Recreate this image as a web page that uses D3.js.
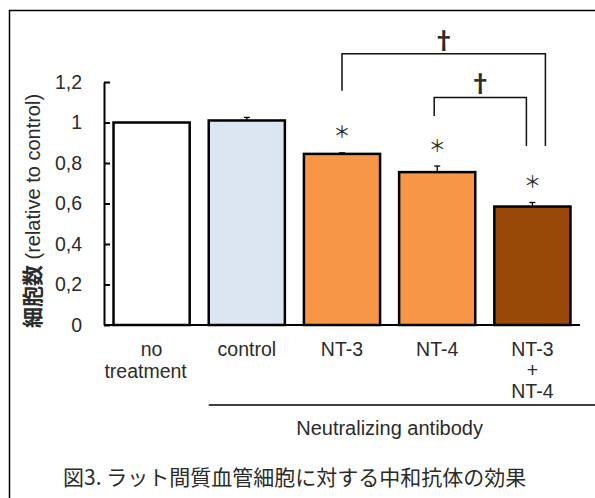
<!DOCTYPE html>
<html>
<head>
<meta charset="utf-8">
<script src="https://cdn.jsdelivr.net/npm/d3@7"></script>
<style>
  body { margin: 0; background: #fff; }
  svg { display: block; }
  text { font-family: "Liberation Sans", Arial, sans-serif; fill: #2b2b2b; }
  .cjk { font-family: "Noto Sans CJK JP", sans-serif; }
</style>
</head>
<body>
<div id="vis"></div>
<script>
// data
const categories = ["no treatment", "control", "NT-3", "NT-4", "NT-3 + NT-4"];
const categoryLines = [["no", "treatment"], ["control"], ["NT-3"], ["NT-4"], ["NT-3", "+", "NT-4"]];
const values = [1.0, 1.01, 0.845, 0.755, 0.585];
const errors = [0, 0.015, 0.005, 0.03, 0.02];
const starred = [false, false, true, true, true];
const fills = ["#ffffff", "#dce6f2", "#f79646", "#f79646", "#984807"];
const yTicks = [0, 0.2, 0.4, 0.6, 0.8, 1, 1.2];

// significance brackets, levels in data units
const brackets = [
  { from: "NT-3", to: "NT-3 + NT-4", level: 1.34, fromEnd: 1.157, toEnd: 0.884, dxFrom: 0, dxTo: 13 },
  { from: "NT-4", to: "NT-3 + NT-4", level: 1.124, fromEnd: 1.032, toEnd: 0.884, dxFrom: -3, dxTo: -6 },
];

const yTitleBold = "細胞数";
const yTitleRest = " (relative to control)";
const groupLabel = "Neutralizing antibody";
const caption = "図3. ラット間質血管細胞に対する中和抗体の効果";

////////////////////////////////////////
/////////////// Options ////////////////
////////////////////////////////////////

const options = {
  width: 595,
  height: 498,
  margin: { top: 82, right: 15, bottom: 173, left: 104 },
  barStroke: 2.5,
  fontSize: 19.5,
};

const width = options.width - options.margin.left - options.margin.right;
const height = options.height - options.margin.top - options.margin.bottom;

const svg = d3
  .select("#vis")
  .append("svg")
  .attr("width", options.width)
  .attr("height", options.height);

svg.append("rect")
  .attr("width", options.width)
  .attr("height", options.height)
  .attr("fill", "#fff");

// frame (runs off the right and bottom of the picture)
svg.append("rect")
  .attr("x", 9.5)
  .attr("y", 10.5)
  .attr("width", options.width + 20)
  .attr("height", options.height + 20)
  .attr("fill", "none")
  .attr("stroke", "#000")
  .attr("stroke-width", 1.5);

const g = svg
  .append("g")
  .attr("transform", `translate(${options.margin.left},${options.margin.top})`);

////////////////////////////////////////
////////////// Scales //////////////////
////////////////////////////////////////

const x = d3
  .scaleBand()
  .domain(categories)
  .range([0, width])
  .paddingInner(0.2)
  .paddingOuter(0.1);

const y = d3.scaleLinear().domain([0, 1.2]).range([height, 0]);

const fmt = d3.formatLocale({
  decimal: ",",
  thousands: ".",
  grouping: [3],
  currency: ["", ""],
}).format(".1~f");

////////////////////////////////////////
/////////////// Bars ///////////////////
////////////////////////////////////////

const rows = categories.map((c, i) => ({
  name: c,
  value: values[i],
  err: errors[i],
  star: starred[i],
  fill: fills[i],
  lines: categoryLines[i],
}));

g.selectAll(".bar")
  .data(rows)
  .join("rect")
  .attr("class", "bar")
  .attr("x", (d) => x(d.name))
  .attr("y", (d) => y(d.value))
  .attr("width", x.bandwidth())
  .attr("height", (d) => y(0) - y(d.value))
  .attr("fill", (d) => d.fill)
  .attr("stroke", "#000")
  .attr("stroke-width", options.barStroke);

// upper error whiskers
const withErr = rows.filter((d) => d.err > 0);
const cx = (d) => x(d.name) + x.bandwidth() / 2;

g.selectAll(".err")
  .data(withErr)
  .join("line")
  .attr("class", "err")
  .attr("x1", cx)
  .attr("x2", cx)
  .attr("y1", (d) => y(d.value))
  .attr("y2", (d) => y(d.value + d.err))
  .attr("stroke", "#000")
  .attr("stroke-width", 1.3);

g.selectAll(".cap")
  .data(withErr)
  .join("line")
  .attr("class", "cap")
  .attr("x1", (d) => cx(d) - 3)
  .attr("x2", (d) => cx(d) + 3)
  .attr("y1", (d) => y(d.value + d.err))
  .attr("y2", (d) => y(d.value + d.err))
  .attr("stroke", "#000")
  .attr("stroke-width", 1.3);

// asterisks
g.selectAll(".star")
  .data(rows.filter((d) => d.star))
  .join("text")
  .attr("class", "star cjk")
  .attr("x", cx)
  .attr("y", (d) => y(d.value + d.err) - 22)
  .attr("dominant-baseline", "central")
  .attr("text-anchor", "middle")
  .style("font-size", "17px")
  .text("＊");

////////////////////////////////////////
/////////////// Axes ///////////////////
////////////////////////////////////////

const yAxis = g
  .append("g")
  .call(
    d3.axisLeft(y)
      .tickValues(yTicks)
      .tickFormat(fmt)
      .tickSizeInner(-6)
      .tickSizeOuter(0)
      .tickPadding(22)
  );

yAxis.select(".domain").attr("stroke", "#000").attr("stroke-width", 2);
yAxis.selectAll(".tick line").attr("stroke", "#000").attr("stroke-width", 2);
yAxis
  .selectAll(".tick text")
  .style("font-size", options.fontSize + "px")
  .style("font-family", '"Liberation Sans", Arial, sans-serif')
  .attr("fill", "#2b2b2b");

// baseline
g.append("line")
  .attr("x1", 0)
  .attr("x2", width)
  .attr("y1", y(0))
  .attr("y2", y(0))
  .attr("stroke", "#000")
  .attr("stroke-width", 2);

// category labels
const catLabels = g
  .selectAll(".cat")
  .data(rows)
  .join("text")
  .attr("class", "cat")
  .attr("x", cx)
  .attr("y", height + 31)
  .attr("text-anchor", "middle")
  .style("font-size", options.fontSize + "px");

catLabels
  .selectAll("tspan")
  .data((d) => d.lines.map((l) => ({ l, x: cx(d), n: d.lines.length })))
  .join("tspan")
  .attr("x", (d, i) => (d.n === 2 && i === 1 ? d.x - 6 : d.x))
  .attr("dy", (d, i) => (i === 0 ? 0 : d.n === 2 ? 22 : 21))
  .text((d) => d.l);

// group line + label
const groupStart = x("control");
g.append("line")
  .attr("x1", groupStart)
  .attr("x2", options.width - options.margin.left)
  .attr("y1", height + 80)
  .attr("y2", height + 80)
  .attr("stroke", "#000")
  .attr("stroke-width", 1.5);

g.append("text")
  .attr("x", (groupStart + x(categories[categories.length - 1]) + x.bandwidth()) / 2)
  .attr("y", height + 110)
  .attr("text-anchor", "middle")
  .style("font-size", "20px")
  .text(groupLabel);

// y title
const yTitle = svg
  .append("text")
  .attr("transform", "translate(40,211) rotate(-90)")
  .attr("text-anchor", "middle");

yTitle.append("tspan")
  .attr("class", "cjk")
  .style("font-size", "21px")
  .style("font-weight", 700)
  .text(yTitleBold);

yTitle.append("tspan")
  .style("font-size", "20px")
  .text(yTitleRest);

////////////////////////////////////////
///////////// Brackets /////////////////
////////////////////////////////////////

brackets.forEach((b) => {
  const x1 = x(b.from) + x.bandwidth() / 2 + b.dxFrom;
  const x2 = x(b.to) + x.bandwidth() / 2 + b.dxTo;
  const path = d3.path();
  path.moveTo(x1, y(b.fromEnd));
  path.lineTo(x1, y(b.level));
  path.lineTo(x2, y(b.level));
  path.lineTo(x2, y(b.toEnd));
  g.append("path")
    .attr("d", path.toString())
    .attr("fill", "none")
    .attr("stroke", "#111")
    .attr("stroke-width", 1.5);

  g.append("text")
    .attr("class", "cjk")
    .attr("x", (x1 + x2) / 2)
    .attr("y", y(b.level) - 5)
    .attr("text-anchor", "middle")
    .style("font-size", "24px")
    .style("font-weight", 700)
    .text("†");
});

////////////////////////////////////////
////////////// Caption /////////////////
////////////////////////////////////////

svg.append("text")
  .attr("class", "cjk")
  .attr("x", 63)
  .attr("y", 485)
  .style("font-size", "21px")
  .text(caption);
</script>
</body>
</html>
